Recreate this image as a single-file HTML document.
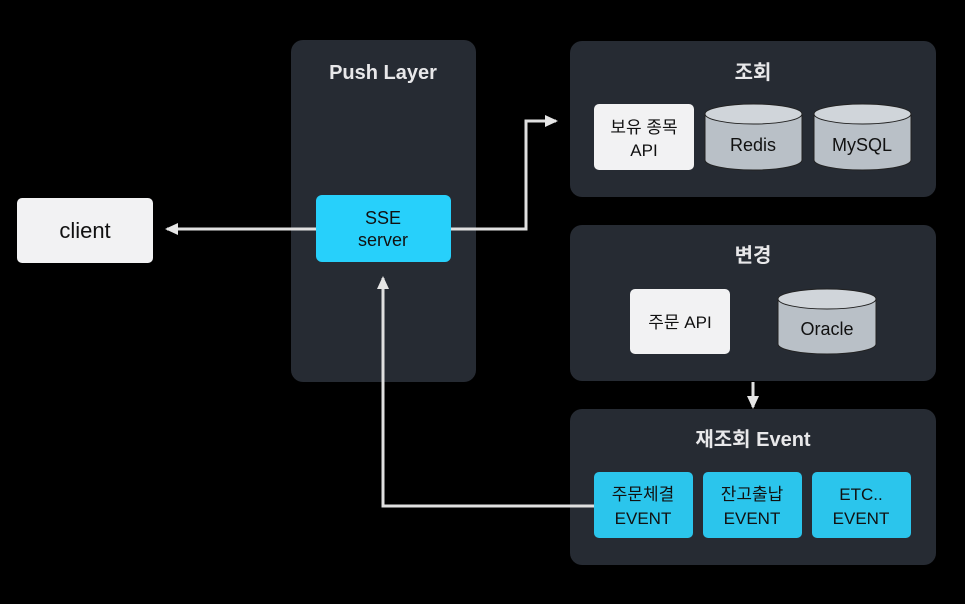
<!DOCTYPE html>
<html><head><meta charset="utf-8"><style>
html,body{margin:0;padding:0;background:#000;}
svg{display:block;}
text{font-family:"Liberation Sans","Noto Sans CJK KR",sans-serif;}
</style></head><body>
<svg width="965" height="604" viewBox="0 0 965 604" xmlns="http://www.w3.org/2000/svg">
<rect width="965" height="604" fill="#000"/>
<defs>
<marker id="ah" markerWidth="14" markerHeight="12" refX="11" refY="6" orient="auto" markerUnits="userSpaceOnUse">
<path d="M0,0 L13,6 L0,12 z" fill="#e6e6e6"/></marker>
</defs>
<rect x="291" y="40" width="185" height="342" rx="12" fill="#262b33"/>
<rect x="570" y="41" width="366" height="156" rx="12" fill="#262b33"/>
<rect x="570" y="225" width="366" height="156" rx="12" fill="#262b33"/>
<rect x="570" y="409" width="366" height="156" rx="12" fill="#262b33"/>
<g fill="#e8e8ea" font-weight="bold" font-size="20" text-anchor="middle">
<text x="383" y="79">Push Layer</text>
<text x="753" y="79">조회</text>
<text x="753" y="262">변경</text>
<text x="753" y="446">재조회 Event</text>
</g>
<g stroke="#e0e0e0" stroke-width="3" fill="none">
<line x1="316" y1="229" x2="167" y2="229" marker-end="url(#ah)"/>
<polyline points="451,229 526,229 526,121 556,121" marker-end="url(#ah)"/>
<line x1="753" y1="382" x2="753" y2="407" marker-end="url(#ah)"/>
<polyline points="594,506 383,506 383,278" marker-end="url(#ah)"/>
</g>
<rect x="17" y="198" width="136" height="65" rx="5" fill="#f2f2f3"/>
<text x="85" y="238" font-size="22" text-anchor="middle" fill="#111">client</text>
<rect x="316" y="195" width="135" height="67" rx="6" fill="#27d0fb"/>
<g font-size="18" text-anchor="middle" fill="#111">
<text x="383" y="224">SSE</text><text x="383" y="246">server</text>
</g>
<rect x="594" y="104" width="100" height="66" rx="5" fill="#f2f2f3"/>
<g font-size="17" text-anchor="middle" fill="#111">
<text x="644" y="133">보유 종목</text><text x="644" y="156">API</text>
</g>
<g fill="#b9c0c7" stroke="#222" stroke-width="1">
<path d="M705,114 v46 a48.5,10 0 0 0 97,0 v-46"/>
<ellipse cx="753.5" cy="114" rx="48.5" ry="10" fill="#d0d5da"/>
<path d="M814,114 v46 a48.5,10 0 0 0 97,0 v-46"/>
<ellipse cx="862.5" cy="114" rx="48.5" ry="10" fill="#d0d5da"/>
<path d="M778,299 v45 a49,10 0 0 0 98,0 v-45"/>
<ellipse cx="827" cy="299" rx="49" ry="10" fill="#d0d5da"/>
</g>
<g font-size="18" text-anchor="middle" fill="#111">
<text x="753" y="151">Redis</text>
<text x="862" y="151">MySQL</text>
<text x="827" y="335">Oracle</text>
</g>
<rect x="630" y="289" width="100" height="65" rx="5" fill="#f2f2f3"/>
<text x="680" y="328" font-size="17" text-anchor="middle" fill="#111">주문 API</text>
<g fill="#2bc5ec">
<rect x="594" y="472" width="99" height="66" rx="5"/>
<rect x="703" y="472" width="99" height="66" rx="5"/>
<rect x="812" y="472" width="99" height="66" rx="5"/>
</g>
<g font-size="17" text-anchor="middle" fill="#111">
<text x="643" y="500">주문체결</text><text x="643" y="524">EVENT</text>
<text x="752" y="500">잔고출납</text><text x="752" y="524">EVENT</text>
<text x="861" y="500">ETC..</text><text x="861" y="524">EVENT</text>
</g>
</svg>
</body></html>
